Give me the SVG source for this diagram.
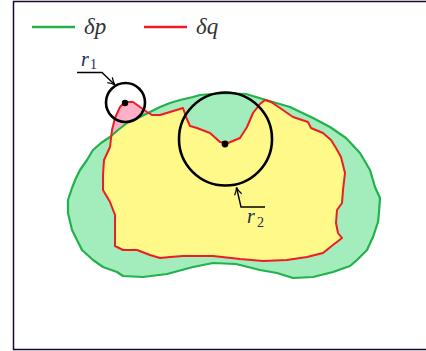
<svg xmlns="http://www.w3.org/2000/svg" width="426" height="351" viewBox="0 0 426 351">
<style>
.frame{stroke:#1a0a2e;stroke-width:1.5;fill:none}
.pstroke{fill:none;stroke:#22b14c;stroke-width:2.2;stroke-linejoin:round}
.qstroke{fill:none;stroke:#ee1c24;stroke-width:2;stroke-linejoin:round}
.ring{fill:none;stroke:#000;stroke-width:2.6}
.lead{fill:none;stroke:#000;stroke-width:1.4}
text{font-family:"Liberation Serif","Times New Roman",serif}
.leg{font-style:italic;font-size:23px;fill:#333}
.lbl{font-style:italic;font-size:20px;fill:#1a2a50}
.sub{font-size:14px;fill:#1a2a50}
</style>
<defs>
<path id="pshape" d="M200,95 L225,93 L246,94 L266,100 L290,107 L313,118 L330,127 L346,138 L360,153 L370,170 L375,187 L380,198 L379,212 L378,222 L373,237 L367,250 L357,260 L350,266 L333,272 L313,277 L293,278 L277,273 L260,270 L236,264 L213,263 L193,267 L167,274 L143,277 L123,276 L117,272 L103,267 L93,260 L82,250 L77,240 L72,230 L68,213 L68,200 L72,188 L76,178 L80,170 L87,160 L93,150 L101,143 L110,137 L118,130 L127,123 L140,117 L150,112 L160,107 L170,103 L180,100 L193,97 Z"/>
<path id="qshape" d="M103,175 L104,160 L110,147 L112,130 L115,118 L120,107 L125,102 L133,102 L140,107 L147,112 L152,115 L160,115 L170,112 L183,108 L186,117 L190,126 L197,128 L210,133 L220,142 L228,143 L240,138 L247,127 L253,113 L260,104 L265,100 L271,102 L280,108 L293,117 L308,122 L311,128 L323,133 L331,140 L336,148 L341,157 L345,173 L343,190 L342,203 L337,210 L336,223 L338,233 L342,238 L333,245 L323,253 L307,257 L287,260 L263,261 L240,259 L213,256 L183,256 L170,257 L160,258 L150,255 L137,250 L123,250 L115,246 L115,215 L110,202 L103,190 Z"/>
<clipPath id="pclip"><use href="#pshape"/></clipPath>
<marker id="arr" viewBox="0 0 10 10" refX="9" refY="5" markerWidth="9" markerHeight="9" markerUnits="userSpaceOnUse" orient="auto">
<path d="M1,1 Q5,4 9,5 Q5,6 1,9" fill="none" stroke="#000" stroke-width="1.4"/>
</marker>
</defs>
<rect width="426" height="351" fill="#fff"/>
<path class="frame" d="M426,1.5 L13.5,1.5 L13.5,349.5 L426,349.5"/>
<g id="legend">
<line x1="32" y1="27" x2="75" y2="27" stroke="#22b14c" stroke-width="2.6"/>
<text class="leg" x="84" y="34">δp</text>
<line x1="144" y1="27" x2="187" y2="27" stroke="#ee1c24" stroke-width="2.6"/>
<text class="leg" x="196" y="34">δq</text>
</g>
<g id="region-p">
<use href="#pshape" fill="#a3ecbc"/>
</g>
<g id="region-q">
<use href="#qshape" fill="#ffb0c8"/>
<use href="#qshape" fill="#fff98a" clip-path="url(#pclip)"/>
</g>
<g id="outlines">
<use href="#pshape" class="pstroke"/>
<use href="#qshape" class="qstroke"/>
</g>
<g id="circle-r1">
<circle class="ring" cx="125.5" cy="102.5" r="19.5"/>
<circle cx="125" cy="103" r="3.2" fill="#000"/>
</g>
<g id="circle-r2">
<circle class="ring" cx="225.5" cy="139" r="46.5"/>
<circle cx="225" cy="144" r="3.4" fill="#000"/>
</g>
<g id="label-r1">
<text class="lbl" x="81" y="66">r</text><text class="sub" x="90" y="69">1</text>
</g>
<g id="label-r2">
<text class="lbl" x="247" y="223">r</text><text class="sub" x="257" y="227">2</text>
</g>
<g id="connectors">
<path class="lead" d="M77,72.5 L102,72.5 L115,85" marker-end="url(#arr)"/>
<path class="lead" d="M265,207 L241,207 L236.5,187.5" marker-end="url(#arr)"/>
</g>
</svg>
